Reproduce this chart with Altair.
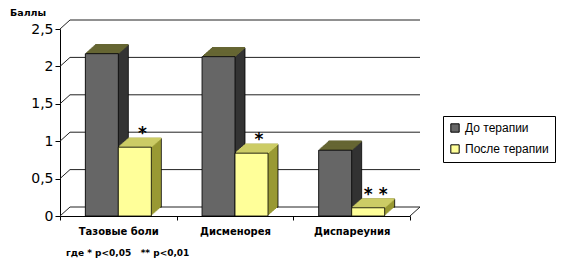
import altair as alt
import pandas as pd

categories = ["Тазовые боли", "Дисменорея", "Диспареуния"]
series = ["До терапии", "После терапии"]
before = [2.17, 2.13, 0.88]
after = [0.92, 0.84, 0.11]
stars = ["*", "*", "* *"]
yticks = [0, 0.5, 1, 1.5, 2, 2.5]

front_cols = ["#666666", "#FFFF99"]
side_cols = ["#333333", "#999933"]
top_cols = ["#666633", "#CCCC66"]

W, H = 350, 187
D = 10
R = 0.88
BW = 33
DX, DY = 10, 9

df_b = pd.DataFrame({"cat": categories, "value": before, "series": series[0]})
df_a = pd.DataFrame({"cat": categories, "value": after, "series": series[1]})
df_t = pd.DataFrame({"value": yticks})
df_s = pd.DataFrame({"cat": categories, "value": after, "txt": stars})

xs = alt.X("cat:N", sort=categories,
           scale=alt.Scale(paddingInner=0, paddingOuter=0),
           axis=alt.Axis(title=None, labelAngle=0, tickBand="extent",
                         labelFont="DejaVu Sans", labelFontWeight="bold",
                         labelFontSize=10, labelColor="black", labelPadding=6,
                         domainColor="black", tickColor="black", tickSize=4))
yaxis = alt.Axis(title=None, values=yticks, grid=False,
                 labelExpr="replace(toString(datum.value), '.', ',')",
                 labelFont="DejaVu Sans", labelFontSize=14,
                 labelColor="black", labelPadding=2,
                 domainColor="black", tickColor="black", tickSize=5)
yscale = alt.Scale(domain=[0, 2.5], nice=False)
ys = alt.Y("value:Q", scale=yscale, axis=yaxis)

layers = []
# back wall gridlines
layers.append(alt.Chart(df_t).mark_rule(color="#222222", strokeWidth=1, yOffset=-DY).encode(
    y=ys, x=alt.value(DX), x2=alt.value(W + DX)))
# diagonal connectors on the left wall
layers.append(alt.Chart(df_t).mark_rule(color="#222222", strokeWidth=1, y2Offset=-DY).encode(
    y=ys, y2="value:Q", x=alt.value(0), x2=alt.value(DX)))
# floor right diagonal
layers.append(alt.Chart(pd.DataFrame({"value": [0]})).mark_rule(color="#222222", strokeWidth=1, y2Offset=-DY).encode(
    y=ys, y2="value:Q", x=alt.value(W), x2=alt.value(W + DX)))


def bar3d(df, si, xoff):
    out = []
    for k in range(D, -1, -1):
        kw = dict(color=side_cols[si], width=BW, xOffset=xoff + k, yOffset=-k * R, y2Offset=-k * R)
        if k == D:
            kw.update(stroke="black", strokeWidth=0.8)
        out.append(alt.Chart(df).mark_bar(**kw).encode(
            x=xs, y=ys, y2=alt.datum(0)))
    for k in range(D, 0, -1):
        out.append(alt.Chart(df).mark_bar(color=top_cols[si], width=BW, xOffset=xoff + k,
                                          yOffset=-k * R - 0.8, y2Offset=-k * R + 0.8).encode(
            x=xs, y=ys, y2="value:Q"))
    out.append(alt.Chart(df).mark_bar(width=BW, xOffset=xoff, stroke="black", strokeWidth=0.8,
                                      opacity=1).encode(
        x=xs, y=ys,
        color=alt.Color("series:N", scale=alt.Scale(domain=series, range=front_cols),
                        legend=alt.Legend(title=None, orient="none", legendX=383, legendY=87))))
    return out


layers += bar3d(df_b, 0, -16.5)
layers += bar3d(df_a, 1, 16.5)

layers.append(alt.Chart(df_s).mark_text(font="DejaVu Sans", fontSize=17, fontWeight="bold",
                                        color="black", dx=24, dy=-13).encode(
    x=xs, y=ys, text="txt:N"))

NB = "\u00a0"
# titles
layers.append(alt.Chart(pd.DataFrame({"t": ["Баллы"]})).mark_text(
    font="DejaVu Sans", fontSize=9.5, fontWeight="bold", align="left", baseline="middle", color="black"
).encode(x=alt.value(-50), y=alt.value(-16), text="t:N"))
layers.append(alt.Chart(pd.DataFrame({"t": ["где * p<0,05" + NB * 3 + "** p<0,01"]})).mark_text(
    font="DejaVu Sans", fontSize=9, fontWeight="bold", align="left", baseline="middle", color="black"
).encode(x=alt.value(6), y=alt.value(224), text="t:N"))

chart = alt.layer(*layers).properties(
    width=W, height=H,
    autosize=alt.AutoSizeParams(type="none"),
    padding={"left": 52, "top": 21, "right": 149, "bottom": 49},
    background="white",
).configure_view(stroke=None).configure_legend(
    strokeColor="black", padding=6, fillColor="white",
    labelFont="Liberation Sans", labelFontSize=12, labelColor="black",
    symbolType="square", symbolSize=70, symbolStrokeColor="black", symbolStrokeWidth=1,
    rowPadding=7, labelLimit=200, symbolOffset=0
)

chart.save("out.html", embed_options={"renderer": "svg", "actions": False})
